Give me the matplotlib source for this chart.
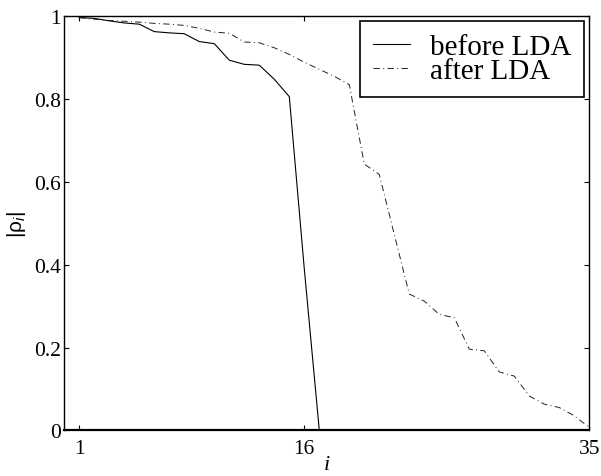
import matplotlib
matplotlib.use("Agg")
import matplotlib.pyplot as plt

# ---- data ----
idx_before = list(range(1, 18))
rho_before = [0.997, 0.995, 0.989, 0.984, 0.981, 0.963, 0.960, 0.958, 0.939,
              0.934, 0.894, 0.884, 0.882, 0.848, 0.806, 0.39, 0.0]

idx_after = list(range(1, 36))
rho_after = [0.997, 0.993, 0.990, 0.988, 0.986, 0.983, 0.981, 0.978, 0.971,
             0.962, 0.959, 0.938, 0.936, 0.924, 0.908, 0.889, 0.872, 0.855,
             0.835, 0.643, 0.618, 0.473, 0.329, 0.312, 0.280, 0.272, 0.196,
             0.192, 0.141, 0.131, 0.083, 0.063, 0.055, 0.035, 0.007]

xticks = [1, 16, 35]
yticks = [0, 0.2, 0.4, 0.6, 0.8, 1]
ytick_labels = ["0", "0.2", "0.4", "0.6", "0.8", "1"]
labels = ["before LDA", "after LDA"]

plt.rcParams['mathtext.fontset'] = 'custom'
plt.rcParams['mathtext.rm'] = 'Liberation Sans'
plt.rcParams['mathtext.it'] = 'Liberation Sans:italic'
plt.rcParams['lines.scale_dashes'] = False

fig = plt.figure(figsize=(6.01, 4.77), dpi=100)
ax = fig.add_axes([0.107, 0.0958, 0.8735, 0.8679])

ax.plot(idx_before, rho_before, color='black', lw=0.8, label=labels[0])
ax.plot(idx_after, rho_after, color='#222222', lw=0.7, dashes=(4.6, 2.4, 0.7, 2.4),
        label=labels[1])

ax.set_xlim(0, 35)
ax.set_ylim(0, 1)
ax.set_xticks(xticks)
ax.set_xticklabels([str(t) for t in xticks])
ax.set_yticks(yticks)
ax.set_yticklabels(ytick_labels)

serif = 'Liberation Serif'
for lab in ax.get_xticklabels() + ax.get_yticklabels():
    lab.set_family(serif)
    lab.set_fontsize(15.5)

ax.tick_params(direction='in', length=3.6, width=0.8, top=True, right=True,
               color='black')
ax.tick_params(axis='x', pad=6)
ax.tick_params(axis='y', pad=2.5)

for side, sp in ax.spines.items():
    sp.set_linewidth(1.0)
    sp.set_color('black')
ax.spines['bottom'].set_linewidth(1.6)

ax.set_xlabel('i', family=serif, style='italic', fontsize=16, labelpad=-2)
ax.set_ylabel(r'$|\mathrm{\rho}_i|$', fontsize=15, labelpad=4)

leg = ax.legend(loc='upper right', bbox_to_anchor=(0.9905, 0.989),
                borderaxespad=0, prop={'family': serif, 'size': 21},
                handlelength=1.25, handletextpad=0.7, borderpad=0.44,
                labelspacing=-0.07, fancybox=False, framealpha=1,
                edgecolor='black')
leg.get_frame().set_linewidth(1.2)

fig.savefig('out.png', dpi=100)
